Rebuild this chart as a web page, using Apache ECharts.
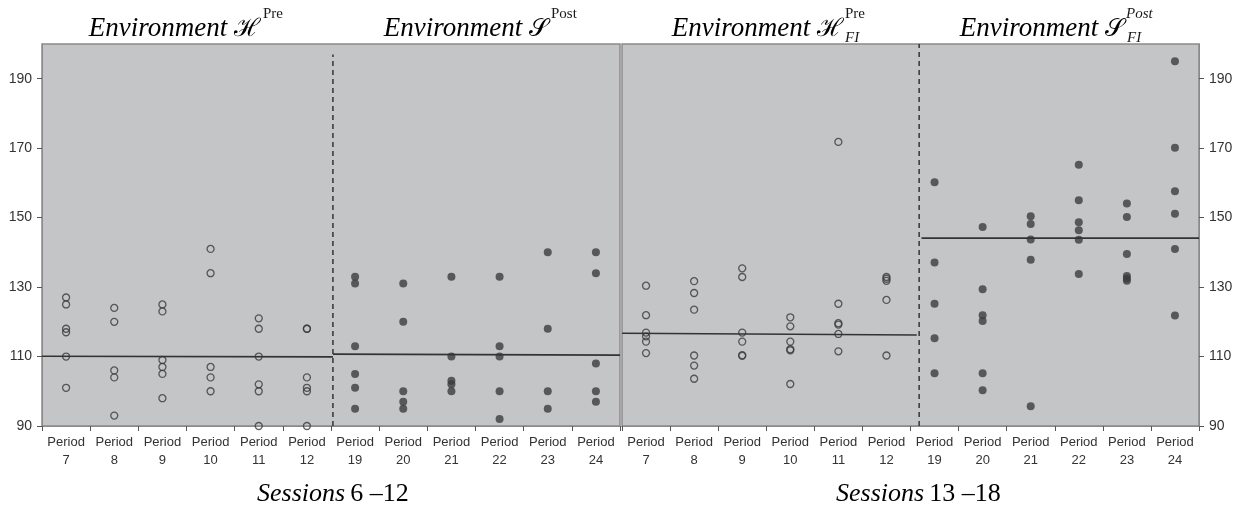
<!DOCTYPE html>
<html><head><meta charset="utf-8">
<script src="https://cdn.jsdelivr.net/npm/echarts@6/dist/echarts.min.js"></script>
<style>html,body{margin:0;padding:0;background:#fff}#c{width:1247px;height:512px}</style>
</head><body><div id="c"></div>
<script>
// ---- data ----
const periodsPre = ['7','8','9','10','11','12'];
const periodsPost = ['19','20','21','22','23','24'];
const yTickLabels = [90,110,130,150,170,190];

// Sessions 6-12, environment H^Pre (hollow) and S^Post (filled)
const s612Pre = [
  [127,125,118,117,110,101],
  [124,120,106,104,93],
  [125,123,109,107,105,98],
  [141,134,107,104,100],
  [121,118,110,102,100,90],
  [118,118,104,101,100,90]
];
const s612Post = [
  [133,131,113,105,101,95],
  [131,120,100,97,95],
  [133,110,103,102,100],
  [133,113,110,100,92],
  [140,118,100,95],
  [140,134,108,100,97]
];
// Sessions 13-18, environment H_FI^Pre (hollow) and S_FI^Post (filled)
const s1318Pre = [
  [130.4,121.9,116.9,115.8,114.3,111],
  [131.7,128.3,123.5,110.3,107.4,103.6],
  [135.4,132.9,116.9,114.3,110.4,110.2],
  [121.3,118.7,114.3,112.1,111.8,102.1],
  [171.8,125.2,119.6,119.2,116.5,111.5],
  [132.9,132.4,131.8,126.3,110.3]
];
const s1318Post = [
  [160.2,137.1,125.2,115.3,105.2],
  [147.3,129.4,121.9,120.2,105.2,100.3],
  [150.4,148.2,143.7,137.9,95.7],
  [165.2,155,148.7,146.4,143.6,133.8],
  [154.1,150.2,139.5,133.2,132.5,131.8],
  [195,170.1,157.6,151.1,141,121.8]
];
// fitted mean lines (start value, end value)
const meanS612Pre = [110.1, 109.9];
const meanS612Post = [110.7, 110.4];
const meanS1318Pre = [116.7, 116.2];
const meanS1318Post = [144.1, 144.1];
// environment change divider (in category units) and dashed extent
const dividerS612 = [6.04, 90, 197];
const dividerS1318 = [6.18, 90, 200];

// ---- build ----
const cats = periodsPre.concat(periodsPost).map(p => 'Period\n' + p);
function pts(groups, offset) {
  const out = [];
  groups.forEach((g, i) => g.forEach(v => out.push([cats[i + offset], v])));
  return out;
}
const hollow = {symbol:'circle', symbolSize:7, itemStyle:{color:'rgba(0,0,0,0)', borderColor:'#3a3a3a', borderWidth:1.3}};
const filled = {symbol:'circle', symbolSize:8, itemStyle:{color:'#3c3c3c'}};
const lineStyleMean = {color:'#333', width:1.6};

function catAxis(gi) {
  return {type:'category', gridIndex:gi, data:cats, boundaryGap:true,
    axisLine:{show:true, onZero:false, lineStyle:{color:'#8a8a8a', width:1}},
    axisTick:{show:true, length:5, lineStyle:{color:'#555'}},
    axisLabel:{interval:0, color:'#333', fontFamily:'Liberation Sans', fontSize:13, lineHeight:18, margin:7},
    splitLine:{show:false}};
}
function valXAxis(gi) {
  return {type:'value', gridIndex:gi, min:0, max:12, show:false};
}
function yAxis(gi, pos) {
  return {type:'value', gridIndex:gi, position:pos, min:90, max:200,
    axisLine:{show:true, onZero:false, lineStyle:{color:'#8a8a8a'}},
    axisTick:{show:true, length:5, customValues:yTickLabels, lineStyle:{color:'#555'}},
    axisLabel:{color:'#333', fontFamily:'Liberation Sans', fontSize:14, margin:10, customValues:yTickLabels},
    splitLine:{show:false}};
}
function lineSeries(xi, yi, data, dashed) {
  return {type:'line', xAxisIndex:xi, yAxisIndex:yi, data:data, symbol:'none', silent:true,
    lineStyle: dashed ? {color:'#333', width:1.5, type:[5,4]} : lineStyleMean, z:3};
}

const series = [
  Object.assign({type:'scatter', xAxisIndex:0, yAxisIndex:0, data:pts(s612Pre,0)}, hollow),
  Object.assign({type:'scatter', xAxisIndex:0, yAxisIndex:0, data:pts(s612Post,6)}, filled),
  Object.assign({type:'scatter', xAxisIndex:1, yAxisIndex:1, data:pts(s1318Pre,0)}, hollow),
  Object.assign({type:'scatter', xAxisIndex:1, yAxisIndex:1, data:pts(s1318Post,6)}, filled),
  lineSeries(2,0,[[0,meanS612Pre[0]],[dividerS612[0],meanS612Pre[1]]]),
  lineSeries(2,0,[[dividerS612[0],meanS612Post[0]],[12,meanS612Post[1]]]),
  lineSeries(2,0,[[dividerS612[0],dividerS612[1]],[dividerS612[0],dividerS612[2]]], true),
  lineSeries(3,1,[[0,meanS1318Pre[0]],[dividerS1318[0]-0.05,meanS1318Pre[1]]]),
  lineSeries(3,1,[[dividerS1318[0]+0.05,meanS1318Post[0]],[12,meanS1318Post[1]]]),
  lineSeries(3,1,[[dividerS1318[0],dividerS1318[1]],[dividerS1318[0],dividerS1318[2]]], true)
];

const serif = "'Liberation Serif', 'DejaVu Serif', serif";
const ink = '#1a1a1a';
const richBase = {
  it:{fontFamily:serif, fontStyle:'italic', fontSize:27, color:ink},
  sc:{fontFamily:serif, fontSize:25, color:ink},
  itb:{fontFamily:serif, fontStyle:'italic', fontSize:26, color:ink},
  up:{fontFamily:serif, fontSize:26, color:ink}
};
function mainText(xRight, y, text) {
  return {type:'text', x:xRight, y:y, z:10,
    style:{text:text, rich:richBase, textAlign:'right', textVerticalAlign:'middle'}};
}
function small(x, y, text, italic) {
  return {type:'text', x:x, y:y, z:10,
    style:{text:text, fontFamily:serif, fontStyle: italic ? 'italic' : 'normal', fontSize:15, fill:ink, textAlign:'left', textVerticalAlign:'middle'}};
}
function bottomText(x, y, text) {
  return {type:'text', x:x, y:y, z:10,
    style:{text:text, rich:richBase, textAlign:'left', textVerticalAlign:'middle'}};
}

const chart = echarts.init(document.getElementById('c'), null, {renderer:'canvas'});
chart.setOption({
  animation:false,
  backgroundColor:'#ffffff',
  grid:[
    {left:42, right:627, top:44, bottom:86, show:true, backgroundColor:'#c4c5c7', borderColor:'#8a8a8a', borderWidth:1.5},
    {left:622, right:48, top:44, bottom:86, show:true, backgroundColor:'#c4c5c7', borderColor:'#8a8a8a', borderWidth:1.5}
  ],
  xAxis:[catAxis(0), catAxis(1), valXAxis(0), valXAxis(1)],
  yAxis:[yAxis(0,'left'), yAxis(1,'right')],
  series:series,
  graphic:[
    mainText(260, 29, '{it|Environment }{sc|ℋ}'),
    small(263, 14, 'Pre', false),
    mainText(548, 29, '{it|Environment }{sc|𝒮}'),
    small(551, 14, 'Post', false),
    mainText(843, 29, '{it|Environment }{sc|ℋ}'),
    small(845, 14, 'Pre', false),
    small(845, 38, 'FI', true),
    mainText(1124, 29, '{it|Environment }{sc|𝒮}'),
    small(1126, 14, 'Post', true),
    small(1127, 38, 'FI', true),
    bottomText(257, 494, '{itb|Sessions}{up|\u20096 –12}'),
    bottomText(836, 494, '{itb|Sessions}{up|\u200913 –18}')
  ]
});
</script></body></html>
